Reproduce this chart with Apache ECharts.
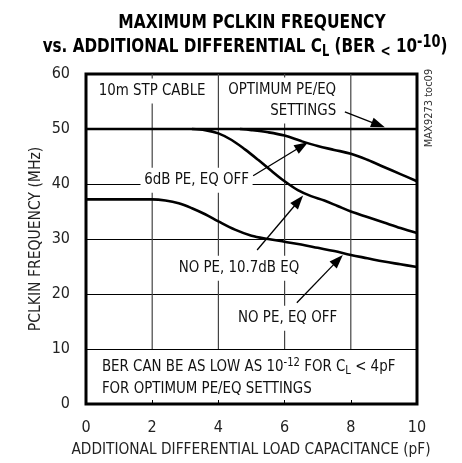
<!DOCTYPE html>
<html><head><meta charset="utf-8">
<script src="https://cdn.jsdelivr.net/npm/echarts@6/dist/echarts.min.js"></script>
<style>html,body{margin:0;padding:0;background:#fff}#c{width:462px;height:463px}</style>
</head><body><div id="c"></div>
<script>
const FONT = "'Liberation Sans Narrow','DejaVu Sans Condensed',sans-serif";
// axes
const xTicks = [0, 2, 4, 6, 8, 10];
const yTicks = [0, 10, 20, 30, 40, 50, 60];
const xTitle = 'ADDITIONAL DIFFERENTIAL LOAD CAPACITANCE (pF)';
const yTitle = 'PCLKIN FREQUENCY (MHz)';
// series
const optimumX = [0, 10];
const optimumY = [50, 50];
const sixDbX = [4.65, 5, 5.5, 6, 6.5, 7, 7.5, 8, 8.5, 9, 9.5, 10];
const sixDbY = [50, 49.8, 49.4, 48.8, 47.8, 46.9, 46.2, 45.5, 44.4, 43.1, 41.8, 40.5];
const tenDbX = [3.2, 3.6, 4, 4.4, 4.8, 5.2, 5.6, 6, 6.4, 6.8, 7.2, 7.6, 8, 8.5, 9, 9.5, 10];
const tenDbY = [50, 49.8, 49.2, 48.0, 46.3, 44.4, 42.4, 40.5, 38.9, 37.8, 37.0, 36.0, 35.0, 34.0, 33.0, 32.0, 31.1];
const noPeX = [0, 1, 2, 2.4, 2.8, 3.2, 3.6, 4, 4.5, 5, 5.5, 6, 6.5, 7, 7.5, 8, 8.5, 9, 9.5, 10];
const noPeY = [37.2, 37.2, 37.2, 37.0, 36.5, 35.6, 34.5, 33.2, 31.7, 30.6, 30.0, 29.5, 29.0, 28.4, 27.8, 27.1, 26.5, 25.9, 25.4, 24.9];
// annotations (data coordinates)
const labelTexts = ['10m STP CABLE', 'OPTIMUM PE/EQ\nSETTINGS', '6dB PE, EQ OFF', 'NO PE, 10.7dB EQ', 'NO PE, EQ OFF'];
const labelX = [0.27, 7.67, 3.34, 4.62, 6.09];
const labelY = [56.9, 55.2, 40.7, 24.7, 15.6];
const labelAlign = ['left', 'right', 'center', 'center', 'center'];
const arrowFrom = [[7.82, 53.1], [5.05, 41.5], [5.17, 28.0], [6.37, 18.4]];
const arrowTo = [[9.03, 50.3], [6.71, 47.6], [6.56, 37.9], [7.76, 27.1]];
const noteX = 0.48;
const noteY = [6.7, 2.7];

const zip = (xs, ys) => xs.map((x, i) => [x, ys[i]]);
const chart = echarts.init(document.getElementById('c'), null, {renderer: 'canvas'});

const curveStyle = {color: '#000', width: 2.6};
const series = [];
xTicks.slice(1, -1).forEach(t => {
  series.push({type: 'line', data: [[t, yTicks[1]], [t, yTicks[yTicks.length - 1]]], symbol: 'none', silent: true,
    lineStyle: {color: '#444', width: 1.2}, z: 1, animation: false});
});
[[optimumX, optimumY], [sixDbX, sixDbY], [tenDbX, tenDbY], [noPeX, noPeY]].forEach(([xs, ys]) => {
  series.push({type: 'line', data: zip(xs, ys), symbol: 'none', smooth: 0.35, lineStyle: curveStyle, z: 3, animation: false, silent: true});
});

chart.setOption({
  animation: false,
  grid: {left: 86, top: 74, width: 331, height: 330, show: true, borderColor: '#000', borderWidth: 3, backgroundColor: 'transparent'},
  xAxis: {
    type: 'value', min: xTicks[0], max: xTicks[xTicks.length - 1], interval: 2,
    axisLine: {show: false}, splitLine: {show: false},
    axisTick: {show: true, inside: true, length: 4, lineStyle: {color: '#000', width: 1}},
    axisLabel: {fontFamily: FONT, fontSize: 16, color: '#222', margin: 16}
  },
  yAxis: {
    type: 'value', min: yTicks[0], max: yTicks[yTicks.length - 1], interval: 10,
    axisLine: {show: false}, axisTick: {show: false},
    splitLine: {show: true, lineStyle: {color: '#000', width: 1.2}},
    axisLabel: {fontFamily: FONT, fontSize: 16, color: '#222', margin: 16}
  },
  series: series
});

const P = (x, y) => chart.convertToPixel({gridIndex: 0}, [x, y]);
const graphics = [];
// title
graphics.push({type: 'text', x: 252, y: 23, scaleX: 0.86, z: 20, style: {text: 'MAXIMUM PCLKIN FREQUENCY', fontFamily: FONT, fontWeight: 'bold', fontSize: 20, fill: '#000', align: 'center', verticalAlign: 'middle'}});
graphics.push({type: 'text', x: 245, y: 47, scaleX: 0.845, z: 20, style: {
  text: 'vs. ADDITIONAL DIFFERENTIAL C{sub|L} (BER {lt|<} 10{sup|-10})',
  fontFamily: FONT, fontWeight: 'bold', fontSize: 20, fill: '#000', align: 'center', verticalAlign: 'middle',
  rich: {
    sub: {fontFamily: FONT, fontWeight: 'bold', fontSize: 15, lineHeight: 26, verticalAlign: 'bottom', fill: '#000'},
    sup: {fontFamily: FONT, fontWeight: 'bold', fontSize: 17, lineHeight: 22, verticalAlign: 'top', fill: '#000'},
    lt: {fontFamily: FONT, fontWeight: 'bold', fontSize: 16, lineHeight: 24, verticalAlign: 'bottom', fill: '#000'}
  }}});
// axis titles
graphics.push({type: 'text', x: 251, y: 450, scaleX: 0.955, z: 20, style: {text: xTitle, fontFamily: FONT, fontSize: 16, fill: '#222', align: 'center', verticalAlign: 'middle'}});
graphics.push({type: 'text', x: 36, y: 239, rotation: Math.PI / 2, scaleX: 0.97, z: 20, style: {text: yTitle, fontFamily: FONT, fontSize: 16, fill: '#222', align: 'center', verticalAlign: 'middle'}});
// side id
graphics.push({type: 'text', x: 429, y: 108, rotation: Math.PI / 2, z: 20, style: {text: 'MAX9273 toc09', fontFamily: FONT, fontSize: 11, fill: '#333', align: 'center', verticalAlign: 'middle'}});
// labels
labelTexts.forEach((t, i) => {
  const p = P(labelX[i], labelY[i]);
  graphics.push({type: 'text', x: p[0], y: p[1], scaleX: 0.93, z: 8, style: {text: t, fontFamily: FONT, fontSize: 16, fill: '#111', align: labelAlign[i], verticalAlign: 'middle', lineHeight: 21, backgroundColor: '#fff', padding: [2, 4]}});
});
// arrows
function arrow(a, b) {
  const p0 = P(a[0], a[1]), p1 = P(b[0], b[1]);
  const dx = p1[0] - p0[0], dy = p1[1] - p0[1], L = Math.hypot(dx, dy), ux = dx / L, uy = dy / L;
  const len = 14, half = 5;
  const bx = p1[0] - ux * len, by = p1[1] - uy * len;
  graphics.push({type: 'line', z: 10, shape: {x1: p0[0], y1: p0[1], x2: bx + ux * 2, y2: by + uy * 2}, style: {stroke: '#000', lineWidth: 1.3}});
  graphics.push({type: 'polygon', z: 10, shape: {points: [[p1[0], p1[1]], [bx - uy * half, by + ux * half], [bx + uy * half, by - ux * half]]}, style: {fill: '#000'}});
}
arrowFrom.forEach((a, i) => arrow(a, arrowTo[i]));
// note
const n1 = P(noteX, noteY[0]), n2 = P(noteX, noteY[1]);
const noteRich = {
  sup: {fontFamily: FONT, fontSize: 12, lineHeight: 20, verticalAlign: 'top', fill: '#111'},
  sub: {fontFamily: FONT, fontSize: 12, lineHeight: 20, verticalAlign: 'bottom', fill: '#111'}
};
graphics.push({type: 'text', x: n1[0], y: n1[1], scaleX: 0.93, z: 8, style: {text: 'BER CAN BE AS LOW AS 10{sup|-12} FOR C{sub|L} < 4pF', fontFamily: FONT, fontSize: 16, fill: '#111', align: 'left', verticalAlign: 'middle', rich: noteRich}});
graphics.push({type: 'text', x: n2[0], y: n2[1], scaleX: 0.93, z: 8, style: {text: 'FOR OPTIMUM PE/EQ SETTINGS', fontFamily: FONT, fontSize: 16, fill: '#111', align: 'left', verticalAlign: 'middle'}});
chart.setOption({graphic: graphics});
</script></body></html>
